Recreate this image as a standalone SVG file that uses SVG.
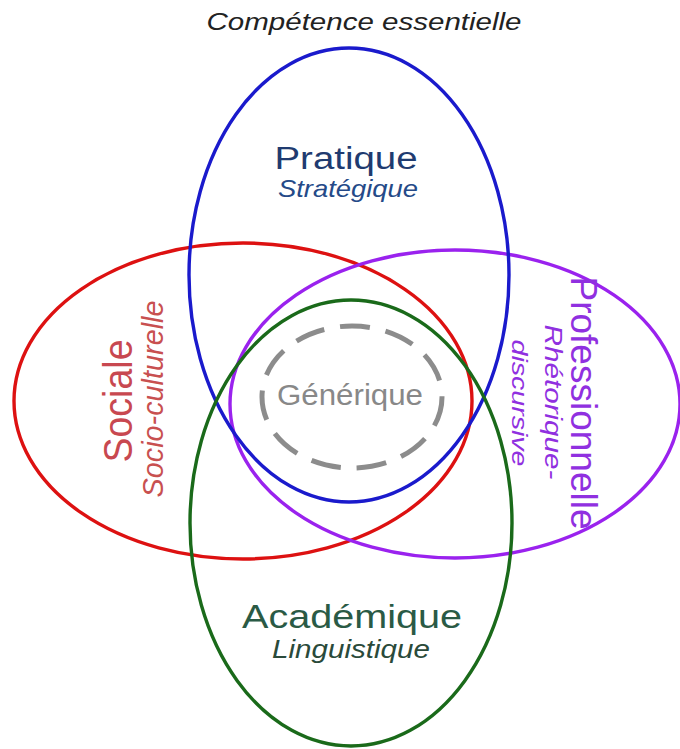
<svg xmlns="http://www.w3.org/2000/svg" width="680" height="749" viewBox="0 0 680 749">
<style>
.ring{fill:none;stroke-width:3.4}
text{font-family:"Liberation Sans",Arial,sans-serif;text-anchor:middle}
.it{font-style:italic}
</style>
<rect width="680" height="749" fill="#fff"/>
<g id="title"><text class="it" x="364" y="30" font-size="24" fill="#222" textLength="315" lengthAdjust="spacingAndGlyphs">Compétence essentielle</text></g>
<g id="rings">
<g id="sociale"><ellipse class="ring" cx="243" cy="401" rx="229" ry="158" stroke="#dd1111"/></g>
<g id="professionnelle"><ellipse class="ring" cx="455" cy="404" rx="225" ry="154" stroke="#9a22ee"/></g>
<g id="pratique"><ellipse class="ring" cx="349" cy="275" rx="160" ry="227" stroke="#1a1acc"/></g>
<g id="academique"><ellipse class="ring" cx="351" cy="523" rx="161" ry="223" stroke="#1a6a1a"/></g>
<g id="generique"><ellipse cx="352" cy="397" rx="90" ry="71" fill="none" stroke="#8c8c8c" stroke-width="5" stroke-dasharray="30 16"/></g>
</g>
<g id="labels">
<text x="346" y="169" font-size="31" fill="#1f3b70" textLength="143" lengthAdjust="spacingAndGlyphs">Pratique</text>
<text class="it" x="348" y="197" font-size="24" fill="#254a88" textLength="140" lengthAdjust="spacingAndGlyphs">Stratégique</text>
<text x="350" y="405" font-size="29" fill="#888" textLength="146" lengthAdjust="spacingAndGlyphs">Générique</text>
<text x="352" y="628" font-size="33" fill="#2a5a45" textLength="220" lengthAdjust="spacingAndGlyphs">Académique</text>
<text class="it" x="351" y="658" font-size="25" fill="#2a4a3a" textLength="158" lengthAdjust="spacingAndGlyphs">Linguistique</text>
<text transform="translate(132,401) rotate(-90)" font-size="40" fill="#c84850" textLength="123" lengthAdjust="spacingAndGlyphs">Sociale</text>
<text class="it" transform="translate(163,399) rotate(-90)" font-size="30" fill="#c85050" textLength="197" lengthAdjust="spacingAndGlyphs">Socio-culturelle</text>
<text transform="translate(571,403) rotate(90)" font-size="37" fill="#9030e0" textLength="253" lengthAdjust="spacingAndGlyphs">Professionnelle</text>
<text class="it" transform="translate(545,402) rotate(90)" font-size="24" fill="#9030e0" textLength="155" lengthAdjust="spacingAndGlyphs">Rhétorique-</text>
<text class="it" transform="translate(512,403) rotate(90)" font-size="22" fill="#9030e0" textLength="127" lengthAdjust="spacingAndGlyphs">discursive</text>
</g>
</svg>
